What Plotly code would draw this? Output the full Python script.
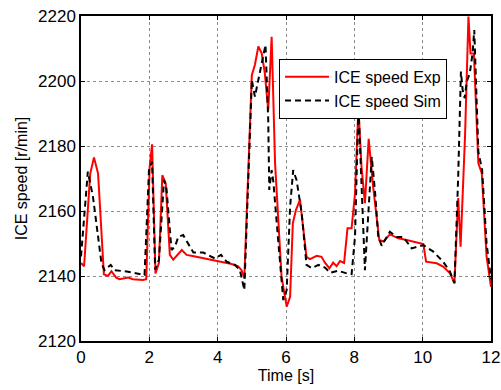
import plotly.graph_objects as go

t_exp = [0.0, 0.09, 0.27, 0.38, 0.5, 0.67, 0.79, 0.89, 1.03, 1.13, 1.38, 1.52, 1.81, 1.91,
         2.01, 2.08, 2.18, 2.28, 2.38, 2.48, 2.6, 2.7, 2.95, 3.09, 3.34, 3.82, 4.12, 4.41,
         4.6, 4.7, 4.78, 5.0, 5.09, 5.19, 5.29, 5.38, 5.48, 5.58, 5.68, 5.77, 5.87, 6.02,
         6.12, 6.2, 6.29, 6.41, 6.6, 6.7, 6.9, 7.04, 7.14, 7.27, 7.38, 7.48, 7.58, 7.7,
         7.8, 7.92, 8.02, 8.12, 8.21, 8.31, 8.42, 8.55, 8.73, 8.85, 9.04, 9.29, 9.53,
         10.02, 10.1, 10.41, 10.6, 10.8, 10.93, 11.04, 11.11, 11.24, 11.34, 11.4, 11.5,
         11.63, 11.73, 11.87, 12.0]
v_exp = [2144, 2143, 2171.5, 2176.5, 2171.5, 2140.5, 2140, 2141.5, 2139.5, 2139, 2139.5, 2139,
         2138.8, 2139, 2173.5, 2180.5, 2140.8, 2144, 2171, 2168.5, 2146.5, 2145, 2148, 2146.5,
         2146, 2145, 2144.4, 2143.7, 2143, 2141.8, 2139.3, 2201.8, 2205, 2210.6, 2208.5,
         2202.4, 2191, 2213.6, 2174.7, 2159.3, 2139.8, 2130.6, 2133.6, 2156.2, 2160.3, 2163.4,
         2145.9, 2145.2, 2146.2, 2145.9, 2144.1, 2142.4, 2144.1, 2143, 2144.6, 2144, 2154.7,
         2154.7, 2165.4, 2192.1, 2173.6, 2162.4, 2182.2, 2167.5, 2151.1, 2150.6, 2152.8,
         2151.6, 2151.1, 2149.8, 2144.4, 2143.9, 2142.9, 2140.8, 2137.8, 2164, 2149, 2183,
         2219.8, 2208.5, 2208.5, 2174.7, 2171.6, 2146, 2136.7]

t_sim = [0.0, 0.2, 0.35, 0.6, 0.69, 0.87, 0.99, 1.38, 1.86, 1.99, 2.08, 2.17, 2.28, 2.43, 2.5,
         2.65, 2.75, 2.85, 2.99, 3.14, 3.29, 3.58, 3.92, 4.1, 4.26, 4.51, 4.65, 4.78, 5.0,
         5.09, 5.19, 5.29, 5.4, 5.48, 5.51, 5.58, 5.63, 5.77, 5.92, 6.02, 6.12, 6.21, 6.31,
         6.46, 6.6, 6.75, 6.95, 7.14, 7.29, 7.53, 7.78, 7.92, 8.02, 8.12, 8.21, 8.31, 8.41,
         8.51, 8.61, 8.7, 8.8, 9.04, 9.24, 9.43, 9.68, 10.02, 10.31, 10.6, 10.8, 10.93,
         11.04, 11.12, 11.17, 11.23, 11.29, 11.38, 11.46, 11.51, 11.63, 11.74, 11.87, 12.0]
v_sim = [2146, 2172.1, 2164.4, 2143.9, 2141.8, 2143.4, 2141.8, 2141.3, 2140.3, 2172.6, 2175.2,
         2142, 2145, 2169.5, 2167, 2148, 2149, 2152.1, 2152.6, 2150.1, 2147.2, 2147.2, 2145.4,
         2146.5, 2144.4, 2143.4, 2141.8, 2135.7, 2200.3, 2195.2, 2200.3, 2206.5, 2211.1, 2188,
         2166.5, 2172.6, 2169, 2151.1, 2132.6, 2135.7, 2161.3, 2172.6, 2169.5, 2159.3, 2143.4,
         2142.4, 2143.4, 2142.6, 2141, 2141.6, 2140.8, 2140.6, 2152.1, 2192.1, 2165.4, 2141.8,
         2159.3, 2176.7, 2165.4, 2152.1, 2149.3, 2153.6, 2152, 2152, 2148.5, 2149.5, 2147.5,
         2144.4, 2141.3, 2137.8, 2170.6, 2202.9, 2197.2, 2194.7, 2199.8, 2202.4, 2208.5,
         2215.7, 2178.2, 2172.6, 2150.1, 2139]

x_ticks = [0, 2, 4, 6, 8, 10, 12]
y_ticks = [2120, 2140, 2160, 2180, 2200, 2220]

FONT = "Liberation Sans, Arial, sans-serif"

fig = go.Figure()
fig.add_trace(go.Scatter(x=t_exp, y=v_exp, mode="lines", name="ICE speed Exp",
                         line=dict(color="#ff0000", width=2)))
fig.add_trace(go.Scatter(x=t_sim, y=v_sim, mode="lines", name="ICE speed Sim",
                         line=dict(color="#000000", width=2, dash="6px,4px")))

axis_common = dict(showline=True, linecolor="black", linewidth=1.5, mirror="ticks",
                   ticks="inside", ticklen=4, tickcolor="black", automargin=False,
                   showgrid=True, gridcolor="#8c8c8c", griddash="dot", gridwidth=1,
                   zeroline=False, tickfont=dict(family=FONT, size=17, color="black"))

fig.update_layout(
    width=501, height=390,
    margin=dict(l=81, r=10, t=16, b=49),
    plot_bgcolor="white", paper_bgcolor="white",
    font=dict(family=FONT, size=16, color="black"),
    xaxis=dict(range=[0, 12], tickvals=x_ticks,
               title=dict(text="Time [s]", font=dict(family=FONT, size=16), standoff=4),
               **axis_common),
    yaxis=dict(range=[2120, 2220], tickvals=y_ticks,
               title=dict(text="ICE speed [r/min]", font=dict(family=FONT, size=16), standoff=6),
               **axis_common),
    legend=dict(x=0.483, y=0.868, xanchor="left", yanchor="top",
                bgcolor="white", bordercolor="black", borderwidth=1,
                font=dict(family=FONT, size=16), tracegroupgap=0, itemwidth=44),
    showlegend=True,
)

fig.write_html("out.html")
